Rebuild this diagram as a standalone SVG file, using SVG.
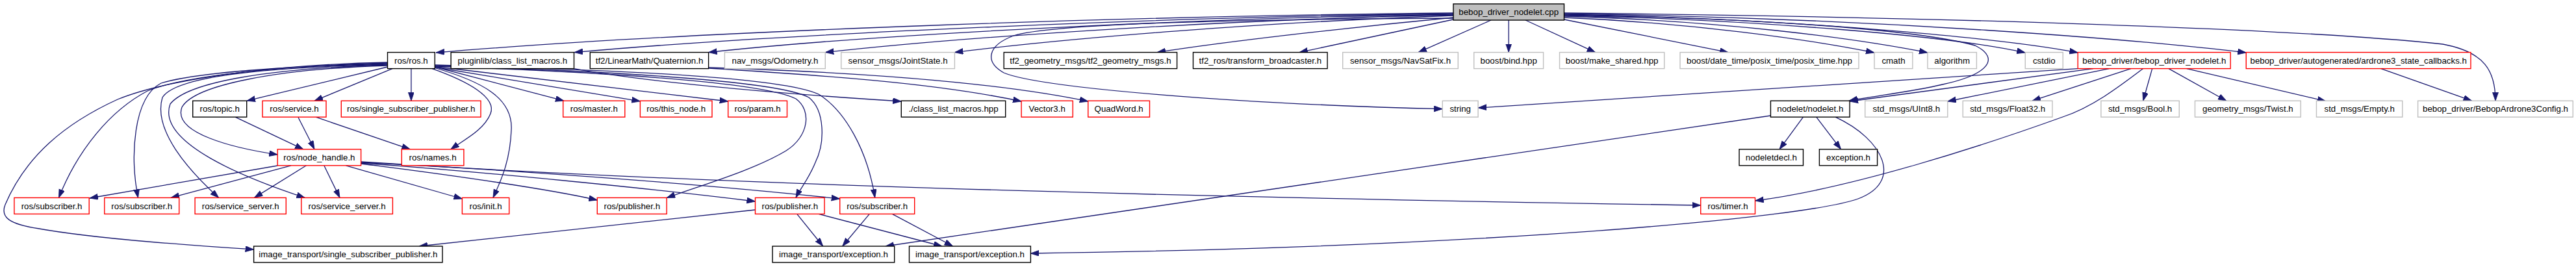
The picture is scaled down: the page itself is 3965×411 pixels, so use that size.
<svg xmlns="http://www.w3.org/2000/svg" width="3965" height="411" viewBox="0 0 3965 411">
<style>
.n rect{fill:#fff;stroke-width:1.4}
.r rect{stroke:#ff0000}
.g rect{stroke:#bfbfbf}
.b rect{stroke:#000}
.root rect{fill:#bfbfbf;stroke:#000}
.n text{font-family:"Liberation Sans",Arial,Helvetica,sans-serif;font-size:13.3px;text-anchor:middle;fill:#000}
#edges path{fill:none;stroke:#191970;stroke-width:1.3;marker-end:url(#ah)}
</style>
<defs>
<marker id="ah" markerWidth="14" markerHeight="10" refX="13" refY="4.5" orient="auto" markerUnits="userSpaceOnUse"><path d="M0,0 L13,4.5 L0,9 z" fill="#191970" stroke="#191970" stroke-width="0.8"/></marker>
</defs>
<rect width="3965" height="411" fill="#fff"/>
<g id="edges">
<!-- root left -->
<path d="M2237,20 C1800,24 1100,45 671,81"/>
<path d="M2237,21 C1800,26 1200,52 884,80.6"/>
<path d="M2237,22 C1850,28 1350,52 1090.6,80.6"/>
<path d="M2237,23 C1900,30 1500,55 1270.3,80.6"/>
<path d="M2237,24 C1950,34 1650,58 1469.4,80.6"/>
<path d="M2237,27 C2100,40 1900,62 1781,80.6"/>
<path d="M2237,28 C1900,30 1620,36 1560,55 C1520,70 1515,95 1545,112 C1600,135 1900,160 2220.3,167.7"/>
<path d="M2237,30 L2000,80.6"/>
<path d="M2295,31 L2183,80.6"/>
<path d="M2322.2,31 L2322.2,80.6"/>
<!-- root right -->
<path d="M2348,31 L2455.7,80.6"/>
<path d="M2407.5,30 L2660,80.6"/>
<path d="M2407.5,27 C2600,35 2780,60 2885,81"/>
<path d="M2407.5,25 C2650,32 2850,58 2967,81"/>
<path d="M2407.5,24 C2700,30 3000,55 3117.3,81"/>
<path d="M2407.5,22 C2800,30 3100,62 3198.3,81"/>
<path d="M2407.5,21 C2900,28 3300,62 3457.3,81"/>
<path d="M2407.5,20 C3000,26 3550,45 3760,68 C3825,80 3841,110 3841,155.2"/>
<path d="M2407.5,23 C2700,28 2950,45 3040,70 C3080,90 3060,115 2990,130 C2940,142 2880,148 2846,155.2"/>
<!-- ros/ros.h left -->
<path d="M596.5,96 C400,100 250,125 181,153 C100,190 40,240 8,315 C0,335 15,345 60,352 C150,368 300,378 390.6,384"/>
<path d="M596.5,97 C420,102 280,118 227,140 C170,170 120,230 90.5,304.4"/>
<path d="M596.5,98 C420,103 300,112 248,128 C205,150 200,240 212.5,304.4"/>
<path d="M596.5,99 C400,104 270,118 250,150 C235,200 290,262 336.7,304.4"/>
<path d="M596.5,100 C420,105 290,125 262,160 C240,220 380,275 469.3,304.4"/>
<path d="M596.5,101 C430,106 300,130 280,165 C265,205 360,228 427.2,238"/>
<path d="M596.5,103 L380,155.2"/>
<path d="M604,105.6 L484,155.2"/>
<path d="M632.9,105.6 L632.9,155.2"/>
<!-- ros/ros.h right -->
<path d="M665,105.6 C720,125 765,150 755,175 C745,200 715,215 693.7,229.8"/>
<path d="M669.3,104.5 C740,125 790,150 787,200 C785,250 770,280 759,304.4"/>
<path d="M669.3,103 L868,155.2"/>
<path d="M669.3,103.5 L985.4,155.8"/>
<path d="M669.3,102.5 L1120.7,156"/>
<path d="M669.3,102 C900,110 1170,125 1225,152 C1250,170 1245,210 1210,232 C1160,262 1080,285 1026.2,304.4"/>
<path d="M669.3,101 C950,110 1200,125 1245,150 C1270,170 1270,220 1255,250 C1245,275 1232,290 1225,304.4"/>
<path d="M669.3,100 C950,108 1200,118 1260,145 C1300,170 1335,230 1346.7,304.4"/>
<!-- pluginlib, quaternion -->
<path d="M883.5,105.6 C950,118 1100,138 1387.3,156"/>
<path d="M1090.6,105 C1300,118 1450,130 1572.1,156"/>
<path d="M1090.6,104 C1350,112 1550,130 1674.8,156"/>
<!-- topic, service -->
<path d="M362,180.2 L467,229.8"/>
<path d="M458.8,180.2 L484,229.8"/>
<path d="M486,180.2 L631.4,229.8"/>
<!-- node_handle -->
<path d="M427.2,255 L138,305"/>
<path d="M448,254.8 L263,304.4"/>
<path d="M471.4,254.8 L391.4,304.4"/>
<path d="M498.8,254.8 L523,304.4"/>
<path d="M532.4,254.8 L711.4,306"/>
<path d="M555.6,252 C700,270 850,292 919.3,308"/>
<path d="M555.6,251 C750,265 1000,290 1162.5,310"/>
<path d="M555.6,250 C800,262 1100,285 1292.7,306"/>
<path d="M555.6,249 C1000,278 1600,300 2617.7,316"/>
<!-- row4 to row5 -->
<path d="M1162.5,323 L645,379"/>
<path d="M1226.7,329.4 L1266.7,379"/>
<path d="M1260,329.4 L1450,379"/>
<path d="M1338.3,329.4 L1296.7,379"/>
<path d="M1373.3,329.4 L1466.7,379"/>
<!-- nodelet -->
<path d="M2725.4,178 L1363,379"/>
<path d="M2825,180.2 C2900,215 2930,280 2860,306 C2780,335 2300,380 1586.4,390"/>
<path d="M2775.5,180.2 L2739,229.8"/>
<path d="M2795.7,180.2 L2833.6,229.8"/>
<!-- bebop_driver_nodelet.h -->
<path d="M3198.3,105.6 C2900,126 2600,146 2275.1,166"/>
<path d="M3222,105.6 L2847.1,156"/>
<path d="M3246.7,105.6 L2997.8,156"/>
<path d="M3280,105.6 L3128,155.2"/>
<path d="M3312.7,105.6 L3298.7,155.2"/>
<path d="M3338,105.6 L3427,155.2"/>
<path d="M3365.7,105.6 L3580,155.8"/>
<path d="M3298.7,105.6 C3260,135 3220,165 3175,180 C3050,225 2850,290 2701.5,309"/>
<!-- ardrone3 -->
<path d="M3664.7,105.6 L3804.7,155.2"/>
</g>
<!-- row 0 -->
<g id="n_root" class="n root"><rect x="2237" y="6" width="170.5" height="25"/><text x="2322.2" y="23.1">bebop_driver_nodelet.cpp</text></g>
<!-- row 1 -->
<g id="n_ros_ros" class="n b"><rect x="596.5" y="80.6" width="72.8" height="25"/><text x="632.9" y="97.7">ros/ros.h</text></g>
<g id="n_pluginlib" class="n b"><rect x="694.1" y="80.6" width="189.4" height="25"/><text x="788.8" y="97.7">pluginlib/class_list_macros.h</text></g>
<g id="n_quat" class="n b"><rect x="908.3" y="80.6" width="182.3" height="25"/><text x="999.5" y="97.7">tf2/LinearMath/Quaternion.h</text></g>
<g id="n_odom" class="n g"><rect x="1115.4" y="80.6" width="154.9" height="25"/><text x="1192.9" y="97.7">nav_msgs/Odometry.h</text></g>
<g id="n_joint" class="n g"><rect x="1294.7" y="80.6" width="174.7" height="25"/><text x="1382.1" y="97.7">sensor_msgs/JointState.h</text></g>
<g id="n_tf2gm" class="n b"><rect x="1545.2" y="80.6" width="266.4" height="25"/><text x="1678.4" y="97.7">tf2_geometry_msgs/tf2_geometry_msgs.h</text></g>
<g id="n_tfbr" class="n b"><rect x="1836.5" y="80.6" width="206.6" height="25"/><text x="1939.8" y="97.7">tf2_ros/transform_broadcaster.h</text></g>
<g id="n_navsat" class="n g"><rect x="2066.7" y="80.6" width="177.6" height="25"/><text x="2155.5" y="97.7">sensor_msgs/NavSatFix.h</text></g>
<g id="n_bind" class="n g"><rect x="2268.7" y="80.6" width="106.9" height="25"/><text x="2322.2" y="97.7">boost/bind.hpp</text></g>
<g id="n_makeshared" class="n g"><rect x="2400.5" y="80.6" width="161.2" height="25"/><text x="2481.1" y="97.7">boost/make_shared.hpp</text></g>
<g id="n_datetime" class="n g"><rect x="2586" y="80.6" width="275" height="25"/><text x="2723.5" y="97.7">boost/date_time/posix_time/posix_time.hpp</text></g>
<g id="n_cmath" class="n g"><rect x="2885" y="80.6" width="58.9" height="25"/><text x="2914.5" y="97.7">cmath</text></g>
<g id="n_algorithm" class="n g"><rect x="2967" y="80.6" width="75.4" height="25"/><text x="3004.7" y="97.7">algorithm</text></g>
<g id="n_cstdio" class="n g"><rect x="3117.3" y="80.6" width="58" height="25"/><text x="3146.3" y="97.7">cstdio</text></g>
<g id="n_bdn_h" class="n r"><rect x="3198.3" y="80.6" width="234.9" height="25"/><text x="3315.8" y="97.7">bebop_driver/bebop_driver_nodelet.h</text></g>
<g id="n_ardrone" class="n r"><rect x="3457.3" y="80.6" width="345.7" height="25"/><text x="3630.2" y="97.7">bebop_driver/autogenerated/ardrone3_state_callbacks.h</text></g>
<!-- row 2 -->
<g id="n_topic" class="n b"><rect x="296.7" y="155.2" width="83" height="25"/><text x="338.2" y="172.3">ros/topic.h</text></g>
<g id="n_service" class="n r"><rect x="404" y="155.2" width="98" height="25"/><text x="453" y="172.3">ros/service.h</text></g>
<g id="n_ssp" class="n r"><rect x="525.3" y="155.2" width="214.7" height="25"/><text x="632.7" y="172.3">ros/single_subscriber_publisher.h</text></g>
<g id="n_master" class="n r"><rect x="866.7" y="155.2" width="95.1" height="25"/><text x="914.3" y="172.3">ros/master.h</text></g>
<g id="n_thisnode" class="n r"><rect x="985.4" y="155.2" width="110.6" height="25"/><text x="1040.7" y="172.3">ros/this_node.h</text></g>
<g id="n_param" class="n r"><rect x="1120.7" y="155.2" width="90.8" height="25"/><text x="1166.1" y="172.3">ros/param.h</text></g>
<g id="n_clm" class="n b"><rect x="1387.3" y="155.2" width="160.4" height="25"/><text x="1467.5" y="172.3">./class_list_macros.hpp</text></g>
<g id="n_vec3" class="n r"><rect x="1572.1" y="155.2" width="79.2" height="25"/><text x="1611.7" y="172.3">Vector3.h</text></g>
<g id="n_quadword" class="n r"><rect x="1674.8" y="155.2" width="94.7" height="25"/><text x="1722.2" y="172.3">QuadWord.h</text></g>
<g id="n_string" class="n g"><rect x="2220.3" y="155.2" width="54.8" height="25"/><text x="2247.7" y="172.3">string</text></g>
<g id="n_nodelet" class="n b"><rect x="2725.4" y="155.2" width="121.7" height="25"/><text x="2786.3" y="172.3">nodelet/nodelet.h</text></g>
<g id="n_uint8" class="n g"><rect x="2870.7" y="155.2" width="127.1" height="25"/><text x="2934.3" y="172.3">std_msgs/UInt8.h</text></g>
<g id="n_float32" class="n g"><rect x="3021.3" y="155.2" width="137.7" height="25"/><text x="3090.2" y="172.3">std_msgs/Float32.h</text></g>
<g id="n_bool" class="n g"><rect x="3233.9" y="155.2" width="120.4" height="25"/><text x="3294.1" y="172.3">std_msgs/Bool.h</text></g>
<g id="n_twist" class="n g"><rect x="3378.5" y="155.2" width="162.8" height="25"/><text x="3459.9" y="172.3">geometry_msgs/Twist.h</text></g>
<g id="n_empty" class="n g"><rect x="3565.5" y="155.2" width="132.3" height="25"/><text x="3631.7" y="172.3">std_msgs/Empty.h</text></g>
<g id="n_config" class="n g"><rect x="3721.6" y="155.2" width="238.7" height="25"/><text x="3841" y="172.3">bebop_driver/BebopArdrone3Config.h</text></g>
<!-- row 3 -->
<g id="n_nodehandle" class="n r"><rect x="427.2" y="229.8" width="128.4" height="25"/><text x="491.4" y="246.9">ros/node_handle.h</text></g>
<g id="n_names" class="n r"><rect x="618.3" y="229.8" width="95.6" height="25"/><text x="666.1" y="246.9">ros/names.h</text></g>
<g id="n_nodeletdecl" class="n b"><rect x="2677" y="229.8" width="98.5" height="25"/><text x="2726.3" y="246.9">nodeletdecl.h</text></g>
<g id="n_exception" class="n b"><rect x="2800.4" y="229.8" width="89.2" height="25"/><text x="2845" y="246.9">exception.h</text></g>
<!-- row 4 -->
<g id="n_sub1" class="n r"><rect x="21.9" y="304.4" width="115.3" height="25"/><text x="79.6" y="321.5">ros/subscriber.h</text></g>
<g id="n_sub2" class="n r"><rect x="160.8" y="304.4" width="114.9" height="25"/><text x="218.3" y="321.5">ros/subscriber.h</text></g>
<g id="n_ss1" class="n r"><rect x="300.1" y="304.4" width="140.2" height="25"/><text x="370.2" y="321.5">ros/service_server.h</text></g>
<g id="n_ss2" class="n r"><rect x="463.8" y="304.4" width="140.6" height="25"/><text x="534.1" y="321.5">ros/service_server.h</text></g>
<g id="n_init" class="n r"><rect x="711.4" y="304.4" width="72.3" height="25"/><text x="747.6" y="321.5">ros/init.h</text></g>
<g id="n_pub1" class="n r"><rect x="919.3" y="304.4" width="106.9" height="25"/><text x="972.8" y="321.5">ros/publisher.h</text></g>
<g id="n_pub2" class="n r"><rect x="1162.5" y="304.4" width="106.5" height="25"/><text x="1215.8" y="321.5">ros/publisher.h</text></g>
<g id="n_sub3" class="n r"><rect x="1292.7" y="304.4" width="115" height="25"/><text x="1350.2" y="321.5">ros/subscriber.h</text></g>
<g id="n_timer" class="n r"><rect x="2617.7" y="304.4" width="83.8" height="25"/><text x="2659.6" y="321.5">ros/timer.h</text></g>
<!-- row 5 -->
<g id="n_itssp" class="n b"><rect x="390.6" y="379" width="290.4" height="25"/><text x="535.8" y="396.1">image_transport/single_subscriber_publisher.h</text></g>
<g id="n_itexc1" class="n b"><rect x="1189" y="379" width="187.7" height="25"/><text x="1282.9" y="396.1">image_transport/exception.h</text></g>
<g id="n_itexc2" class="n b"><rect x="1399.5" y="379" width="186.9" height="25"/><text x="1493" y="396.1">image_transport/exception.h</text></g>
</svg>
